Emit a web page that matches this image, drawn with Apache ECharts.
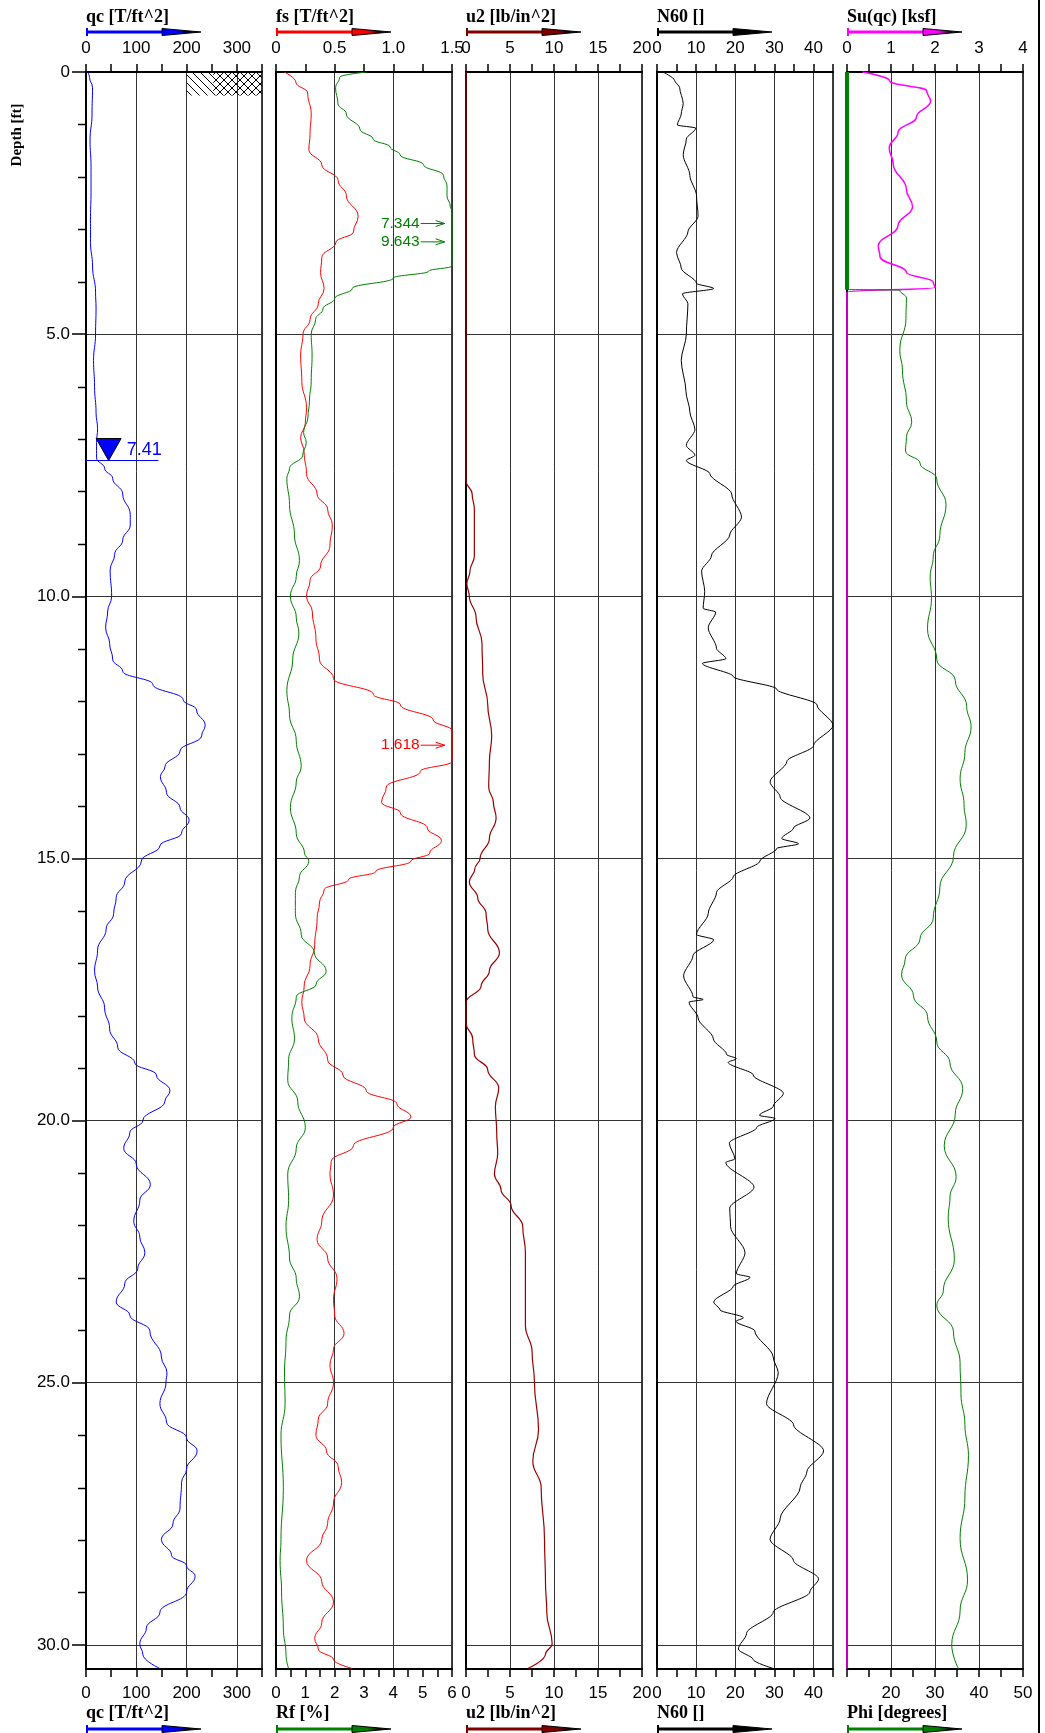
<!DOCTYPE html>
<html>
<head>
<meta charset="utf-8">
<title>CPT log</title>
<script src="https://cdn.jsdelivr.net/npm/echarts@6.0.0/dist/echarts.min.js"></script>
<style>
  html, body { margin: 0; padding: 0; background: #fff; }
  #cpt { width: 1045px; height: 1733px; }
</style>
</head>
<body>
<div id="cpt"></div>
<script>
var qcDepth = [0, 0.1, 0.3, 0.8, 1.3, 1.8, 2.3, 2.75, 3.25, 3.7, 4.2, 4.5, 5.0, 5.5, 6.0, 6.5, 6.8, 7.07, 7.36, 7.56,
  7.75, 8.05, 8.44, 8.64, 8.93, 9.2, 9.5, 10.0, 10.3, 10.6, 10.9, 11.2, 11.43, 11.68, 11.97, 12.17, 12.46, 12.66, 12.95, 13.25,
  13.44, 13.74, 14.03, 14.27, 14.52, 14.76, 15.05, 15.45, 15.75, 16.05, 16.35, 16.75, 17.15, 17.45, 17.85, 18.25, 18.6, 18.9, 19.13, 19.43,
  19.63, 20.0, 20.23, 20.53, 20.83, 21.22, 21.52, 21.92, 22.22, 22.52, 22.82, 23.11, 23.46, 23.71, 24.01, 24.51, 24.81, 25.0, 25.4, 25.75,
  26.05, 26.3, 26.65, 26.9, 27.39, 27.69, 27.99, 28.29, 28.49, 28.69, 28.99, 29.38, 29.68, 29.98, 30.18, 30.45];
var qcVal = [3, 7, 13, 12, 8, 10, 10, 9, 9, 13, 19, 20, 19, 15, 17, 20, 23, 21, 21, 37,
  53, 73, 88, 88, 73, 57, 48, 51, 43, 39, 47, 53, 73, 133, 193, 220, 237, 230, 187, 157,
  148, 160, 187, 205, 190, 147, 110, 77, 60, 55, 40, 23, 17, 23, 37, 47, 63, 97, 140, 167,
  157, 113, 87, 75, 100, 128, 107, 95, 107, 117, 103, 77, 60, 87, 127, 150, 161, 159, 147, 160,
  200, 221, 200, 190, 187, 173, 150, 170, 200, 217, 200, 147, 120, 107, 113, 147];

var fsDepth = [0, 0.2, 0.4, 0.8, 1.19, 1.48, 1.77, 2.07, 2.36, 2.75, 3.05, 3.25, 3.54, 3.83, 4.13, 4.42, 4.72, 5.0, 5.4, 5.9,
  6.4, 6.7, 6.97, 7.26, 7.66, 8.05, 8.34, 8.64, 9.03, 9.42, 9.7, 10.0, 10.3, 10.8, 11.2, 11.57, 11.87, 12.07, 12.36, 12.56,
  12.85, 13.15, 13.34, 13.64, 13.93, 14.13, 14.42, 14.66, 14.9, 15.05, 15.25, 15.4, 15.6, 15.85, 16.15, 16.65, 17.04, 17.44, 17.74, 18.04,
  18.44, 18.84, 19.13, 19.43, 19.68, 19.93, 20.13, 20.48, 20.78, 21.02, 21.42, 21.92, 22.27, 22.62, 23.01, 23.41, 23.71, 24.06, 24.36, 24.66,
  25.0, 25.4, 25.7, 26.0, 26.3, 26.6, 26.9, 27.29, 27.69, 27.99, 28.39, 28.79, 29.18, 29.58, 29.88, 30.08, 30.28, 30.45];
var fsVal = [0.07, 0.17, 0.27, 0.30, 0.29, 0.28, 0.39, 0.53, 0.60, 0.70, 0.66, 0.51, 0.39, 0.38, 0.41, 0.36, 0.29, 0.23, 0.21, 0.22,
  0.26, 0.25, 0.21, 0.24, 0.26, 0.35, 0.44, 0.48, 0.46, 0.38, 0.29, 0.26, 0.31, 0.34, 0.37, 0.49, 0.83, 1.06, 1.34, 1.5,
  1.5, 1.5, 1.23, 0.94, 0.90, 1.06, 1.29, 1.41, 1.31, 1.15, 0.85, 0.62, 0.41, 0.37, 0.35, 0.33, 0.29, 0.24, 0.22, 0.24,
  0.36, 0.44, 0.57, 0.77, 1.03, 1.15, 1.0, 0.66, 0.47, 0.46, 0.49, 0.39, 0.35, 0.44, 0.52, 0.49, 0.50, 0.58, 0.49, 0.46,
  0.49, 0.44, 0.36, 0.34, 0.43, 0.53, 0.56, 0.49, 0.44, 0.39, 0.26, 0.39, 0.49, 0.39, 0.33, 0.36, 0.49, 0.65];

var rfDepth = [0, 0.1, 0.3, 0.6, 0.8, 1.09, 1.28, 1.43, 1.58, 1.77, 1.97, 2.17, 2.36, 2.56, 2.66, 3.7, 3.8, 3.93, 4.13, 4.32,
  4.52, 4.72, 5.0, 5.4, 5.9, 6.28, 6.58, 6.87, 7.07, 7.31, 7.56, 7.75, 8.25, 8.83, 9.32, 9.62, 10.0, 10.4, 10.7, 11.2,
  11.8, 12.26, 12.75, 13.25, 13.54, 14.03, 14.52, 14.9, 15.05, 15.35, 15.65, 16.05, 16.45, 16.8, 17.15, 17.4, 17.64, 18.04, 18.44, 18.84,
  19.23, 19.63, 20.13, 20.53, 21.02, 21.52, 22.02, 22.62, 23.01, 23.36, 23.71, 24.21, 24.81, 25.4, 26.0, 27.0, 27.99, 28.39, 28.99, 29.68,
  30.18, 30.45];
var rfVal = [3.09, 2.17, 2.03, 2.11, 2.4, 2.86, 3.31, 3.89, 4.23, 5.03, 5.71, 5.83, 5.83, 5.94, 6, 6, 5.2, 4.0, 2.6, 2.0,
  1.6, 1.35, 1.2, 1.23, 1.2, 1.14, 1.09, 0.94, 1.03, 0.91, 0.46, 0.37, 0.46, 0.63, 0.8, 0.69, 0.49, 0.69, 0.78, 0.57,
  0.37, 0.46, 0.69, 0.86, 0.69, 0.49, 0.69, 0.97, 1.12, 0.8, 0.66, 0.66, 0.86, 1.31, 1.71, 1.37, 0.69, 0.54, 0.63, 0.43,
  0.4, 0.74, 1.0, 0.69, 0.4, 0.43, 0.34, 0.46, 0.69, 0.8, 0.46, 0.34, 0.29, 0.31, 0.17, 0.25, 0.17, 0.14, 0.19, 0.25,
  0.34, 0.43];

var u2Depth = [0, 7.8, 8.05, 8.34, 9.23, 9.52, 9.76, 10.0, 10.4, 10.9, 11.48, 12.07, 12.66, 13.15, 13.64, 13.93, 14.23, 14.62, 15.0, 15.2,
  15.45, 15.75, 16.05, 16.35, 16.8, 17.14, 17.44, 17.74, 18.14, 18.44, 18.74, 19.03, 19.38, 19.73, 20.23, 20.63, 21.02, 21.32, 21.62, 22.02,
  22.52, 23.91, 24.41, 25.0, 25.9, 26.5, 27.0, 27.99, 28.79, 29.38, 29.98, 30.18, 30.45];
var u2Val = [0, 0, 0.7, 0.95, 0.95, 0.45, 0.1, 0.38, 1.14, 1.82, 1.9, 2.47, 2.92, 2.66, 2.58, 3.11, 3.42, 2.66, 1.6, 1.0,
  0.38, 1.33, 2.28, 2.47, 3.8, 2.66, 1.71, 0, 0, 0.76, 0.95, 2.47, 3.72, 3.34, 3.49, 3.6, 3.23, 3.98, 5.12, 6.45,
  6.75, 6.75, 7.51, 7.78, 8.24, 7.59, 8.54, 8.92, 9.03, 9.18, 9.79, 9.03, 7.02];

var n60Depth = [0, 0.16, 0.3, 0.6, 0.8, 1.01, 1.07, 1.28, 1.58, 1.97, 2.36, 2.75, 3.05, 3.44, 3.74, 4.03, 4.13, 4.23, 4.42, 5.0,
  5.5, 6.09, 6.48, 6.82, 7.12, 7.31, 7.41, 7.66, 8.05, 8.49, 8.83, 9.23, 9.52, 9.91, 10.23, 10.3, 10.6, 10.99, 11.19, 11.28,
  11.53, 11.77, 12.07, 12.46, 12.85, 13.15, 13.54, 13.83, 14.23, 14.42, 14.62, 14.72, 14.81, 15.05, 15.35, 15.65, 16.05, 16.45, 16.55, 16.85,
  17.24, 17.64, 17.69, 17.74, 18.04, 18.44, 18.74, 18.82, 18.89, 19.13, 19.48, 19.73, 19.9, 19.96, 20.13, 20.43, 20.73, 20.8, 21.27, 21.67,
  22.02, 22.52, 22.92, 22.99, 23.16, 23.46, 23.61, 23.76, 23.83, 24.01, 24.51, 24.81, 25.4, 25.8, 26.3, 26.7, 27.0, 27.59, 27.99, 28.39,
  28.74, 28.99, 29.38, 29.78, 30.08, 30.28, 30.45];
var n60Val = [1.5, 4.5, 5.8, 6.7, 6.2, 5.2, 9.9, 7.5, 6.7, 8.4, 10.1, 10.5, 7.9, 5.0, 6.2, 10.1, 14.5, 6.5, 7.9, 7.5,
  6.2, 7.4, 8.4, 9.7, 7.5, 9.7, 7.5, 13.5, 19.1, 21.6, 18.6, 13.9, 11.4, 12.2, 11.8, 15, 13.1, 15.2, 17.6, 11.6,
  19.5, 30.6, 40.9, 45, 40, 33.2, 28.9, 31.5, 39.1, 34.9, 31.9, 36.2, 30.6, 26.3, 19.5, 15.2, 13.1, 10.1, 14.5, 9.2,
  6.8, 9.2, 11.8, 8.2, 10.5, 14.4, 17.8, 20.3, 18.2, 24.6, 32.3, 29.7, 26.2, 30.2, 25.5, 18.5, 19.9, 17.6, 24.8, 18.6,
  18.8, 22.5, 20.3, 23.8, 19.5, 14.5, 16.1, 22.1, 20.2, 25, 29.7, 31, 28, 34.9, 42.6, 38.3, 36.6, 31.5, 28.9, 34.9,
  41.3, 39.1, 29.7, 22.9, 20.8, 24.6, 29.7];

var suDepth = [0, 0.17, 0.36, 0.56, 0.86, 1.15, 1.45, 1.75, 2.24, 2.57, 2.93, 3.32, 3.52, 3.82, 4.01, 4.11, 4.2, 30.45];
var suVal = [0.35, 0.97, 1.81, 1.9, 1.58, 1.16, 0.96, 1.05, 1.35, 1.49, 1.16, 0.71, 0.75, 1.35, 1.96, 2.0, 0, 0];

var phiClayDepth = [0, 4.15];
var phiClayVal = [10, 10];
var phiDepth = [4.15, 4.16, 4.31, 4.7, 5.3, 5.69, 6.28, 6.68, 6.97, 7.23, 7.46, 7.76, 8.25, 8.84, 9.24, 9.63, 10.03, 10.62, 11.21, 11.6,
  12.1, 12.49, 12.98, 13.48, 13.97, 14.37, 14.96, 15.55, 16.14, 16.53, 16.93, 17.22, 17.62, 18.01, 18.5, 18.9, 19.39, 19.88, 20.48, 21.07,
  21.46, 21.86, 22.65, 23.24, 23.53, 24.03, 24.62, 25.21, 25.8, 26.39, 27.18, 27.97, 28.76, 29.35, 30.0, 30.45];
var phiVal = [10, 22.0, 23.5, 23.4, 22.0, 22.6, 23.5, 24.7, 23.5, 23.3, 26.6, 30.4, 32.5, 31.1, 29.6, 28.9, 29.2, 28.3, 30.4, 34.6,
  37.2, 38.2, 36.8, 35.7, 36.6, 37.1, 34.2, 31.1, 29.6, 26.6, 23.2, 22.4, 25.1, 28.3, 30.4, 33.4, 36.3, 34.6, 32.1, 34.8,
  33.4, 33.0, 34.4, 31.9, 30.4, 34.2, 35.7, 35.9, 36.8, 37.6, 36.8, 35.7, 37.4, 35.7, 33.8, 35.3];

// tick positions / labels
var depthMinorTicks = [1, 2, 3, 4, 6, 7, 8, 9, 11, 12, 13, 14, 16, 17, 18, 19, 21, 22, 23, 24, 26, 27, 28, 29];
var depthLabels = [0, 5, 10, 15, 20, 25, 30];
var qcTicks = [0, 50, 100, 150, 200, 250, 300, 350];
var qcLabels = [0, 100, 200, 300];
var fsTicks = [0, 0.25, 0.5, 0.75, 1.0, 1.25, 1.5];
var fsLabels = [0, 0.5, 1.0, 1.5];
var rfTicks = [0, 0.5, 1, 1.5, 2, 2.5, 3, 3.5, 4, 4.5, 5, 5.5, 6];
var rfLabels = [0, 1, 2, 3, 4, 5, 6];
var u2Ticks = [0, 2.5, 5, 7.5, 10, 12.5, 15, 17.5, 20];
var u2Labels = [0, 5, 10, 15, 20];
var n60Ticks = [0, 5, 10, 15, 20, 25, 30, 35, 40, 45];
var n60Labels = [0, 10, 20, 30, 40];
var suTicks = [0, 0.5, 1, 1.5, 2, 2.5, 3, 3.5, 4];
var suLabels = [0, 1, 2, 3, 4];
var phiTicks = [10, 15, 20, 25, 30, 35, 40, 45, 50];
var phiLabels = [20, 30, 40, 50];

var topTitles = ['qc [T/ft^2]', 'fs [T/ft^2]', 'u2 [lb/in^2]', 'N60 []', 'Su(qc) [ksf]'];
var bottomTitles = ['qc [T/ft^2]', 'Rf [%]', 'u2 [lb/in^2]', 'N60 []', 'Phi [degrees]'];
var topColors = ['#0000ff', '#ff0000', '#800000', '#000000', '#ff00ff'];
var bottomColors = ['#0000ff', '#008000', '#800000', '#000000', '#008000'];

var waterDepth = 7.41;
var hatchDepth = 0.45;
var offScaleDepth = [2.89, 3.24, 12.84];
var offScaleText = ['7.344', '9.643', '1.618'];
var offScaleColor = ['#008000', '#008000', '#ff0000'];

// ---- layout ----
var gridLeft = [86, 276, 466, 657, 847];
var GRID_TOP = 72, GRID_W = 176, GRID_H = 1597, DEPTH_MAX = 30.46;
var NUM_FONT = '"Liberation Sans", Arial, sans-serif';
var TITLE_FONT = 'bold 18px "Liberation Serif", "Times New Roman", serif';

function pairs(vals, depths) {
  return vals.map(function (v, i) { return [v, depths[i]]; });
}

function xAx(grid, pos, min, max, ticks, labels, fmt) {
  return {
    type: 'value', gridIndex: grid, position: pos, min: min, max: max,
    axisLine: { show: true, onZero: false, lineStyle: { color: '#000', width: 2 } },
    axisTick: { show: true, length: 8, customValues: ticks, lineStyle: { color: '#000', width: 1.5 } },
    axisLabel: {
      show: true, customValues: labels, formatter: fmt, margin: pos === 'top' ? 15 : 16,
      color: '#000', fontSize: 17, fontFamily: NUM_FONT
    },
    splitLine: { show: false }
  };
}

// invisible axis that only draws the vertical grid lines
function gridAx(grid, min, max, major) {
  return {
    type: 'value', gridIndex: grid, position: 'top', min: min, max: max, interval: major,
    axisLine: { show: false, onZero: false }, axisTick: { show: false }, axisLabel: { show: false },
    splitLine: { show: true, lineStyle: { color: '#333', width: 1 } }
  };
}

function yAx(grid, first) {
  return {
    type: 'value', gridIndex: grid, position: 'left', inverse: true, min: 0, max: DEPTH_MAX, interval: 5,
    axisLine: { show: true, onZero: false, lineStyle: { color: '#000', width: 2 } },
    axisTick: { show: first, length: 14, customValues: depthLabels, lineStyle: { color: '#000', width: 1.5 } },
    axisLabel: {
      show: first, customValues: depthLabels, margin: 16, color: '#000', fontSize: 17, fontFamily: NUM_FONT,
      formatter: function (v) { return v === 0 ? '0' : v.toFixed(1); }
    },
    splitLine: { show: true, lineStyle: { color: '#333', width: 1 } }
  };
}

var plain = function (v) { return String(v); };
var oneDec = function (v) { return v === 0 ? '0' : v.toFixed(1); };

function line(name, xi, yi, vals, depths, color, width, extra) {
  return Object.assign({
    name: name, type: 'line', xAxisIndex: xi, yAxisIndex: yi,
    data: pairs(vals, depths),
    showSymbol: false, symbol: 'none', smooth: 0.45, smoothMonotone: 'y',
    lineStyle: { color: color, width: width }, itemStyle: { color: color },
    silent: true, animation: false, z: 3
  }, extra || {});
}

var option = {
  backgroundColor: '#fff',
  animation: false,
  grid: gridLeft.map(function (l) {
    return {
      left: l, top: GRID_TOP, width: GRID_W, height: GRID_H, show: true,
      borderColor: '#000', borderWidth: 1.5, backgroundColor: 'transparent', outerBoundsMode: 'none'
    };
  }),
  xAxis: [
    xAx(0, 'top', 0, 350, qcTicks, qcLabels, plain),
    xAx(0, 'bottom', 0, 350, qcTicks, qcLabels, plain),
    xAx(1, 'top', 0, 1.5, fsTicks, fsLabels, oneDec),
    xAx(1, 'bottom', 0, 6, rfTicks, rfLabels, plain),
    xAx(2, 'top', 0, 20, u2Ticks, u2Labels, plain),
    xAx(2, 'bottom', 0, 20, u2Ticks, u2Labels, plain),
    xAx(3, 'top', 0, 45, n60Ticks, n60Labels, plain),
    xAx(3, 'bottom', 0, 45, n60Ticks, n60Labels, plain),
    xAx(4, 'top', 0, 4, suTicks, suLabels, plain),
    xAx(4, 'bottom', 10, 50, phiTicks, phiLabels, plain),
    gridAx(0, 0, 350, 100),
    gridAx(1, 0, 1.5, 0.5),
    gridAx(2, 0, 20, 5),
    gridAx(3, 0, 45, 10),
    gridAx(4, 0, 4, 1)
  ],
  yAxis: [yAx(0, true), yAx(1, false), yAx(2, false), yAx(3, false), yAx(4, false)],
  series: [
    line('qc', 0, 0, qcVal, qcDepth, '#0000ff', 1),
    line('fs', 2, 1, fsVal, fsDepth, '#ff0000', 1),
    line('Rf', 3, 1, rfVal, rfDepth, '#008000', 1),
    line('u2', 4, 2, u2Val, u2Depth, '#990000', 1.2, { clip: false }),
    line('N60', 6, 3, n60Val, n60Depth, '#000000', 1, { smooth: 0.3 }),
    line('Su', 8, 4, suVal, suDepth, '#ff00ff', 1.5, { clip: false }),
    line('Phi clay', 9, 4, phiClayVal, phiClayDepth, '#008000', 4, { clip: false, smooth: false }),
    line('Phi', 9, 4, phiVal, phiDepth, '#008000', 1)
  ]
};

var chart = echarts.init(document.getElementById('cpt'));
chart.setOption(option);

function px(seriesIndex, x, d) {
  return chart.convertToPixel({ seriesIndex: seriesIndex }, [x, d]);
}

function hatchTile(back) {
  var c = document.createElement('canvas');
  c.width = 8; c.height = 8;
  var g = c.getContext('2d');
  g.strokeStyle = '#000'; g.lineWidth = 1;
  g.beginPath();
  if (back) {
    g.moveTo(0, 0); g.lineTo(8, 8); g.moveTo(-2, 6); g.lineTo(2, 10); g.moveTo(6, -2); g.lineTo(10, 2);
  } else {
    g.moveTo(0, 8); g.lineTo(8, 0); g.moveTo(-2, 2); g.lineTo(2, -2); g.moveTo(6, 10); g.lineTo(10, 6);
  }
  g.stroke();
  return c;
}

function axisArrow(x, y, color) {
  return [
    { type: 'line', silent: true, shape: { x1: x, y1: y, x2: x + 77, y2: y }, style: { stroke: color, lineWidth: 3 } },
    { type: 'line', silent: true, shape: { x1: x + 1, y1: y - 4, x2: x + 1, y2: y + 4 }, style: { stroke: color, lineWidth: 2 } },
    {
      type: 'polygon', silent: true,
      shape: { points: [[x + 76, y - 3.5], [x + 115, y], [x + 76, y + 3.5]] },
      style: {
        fill: new echarts.graphic.LinearGradient(0, 0, 1, 0, [
          { offset: 0, color: color }, { offset: 0.4, color: color }, { offset: 0.75, color: '#000' }, { offset: 1, color: '#000' }
        ]),
        stroke: '#000', lineWidth: 1
      }
    }
  ];
}

function label(text, x, y, font, color, align, extra) {
  return Object.assign({
    type: 'text', silent: true, x: x, y: y,
    style: { text: text, font: font, fill: color, align: align, verticalAlign: 'middle', textAlign: align, textVerticalAlign: 'middle' }
  }, extra || {});
}

var els = [];

// titles and direction arrows
for (var i = 0; i < 5; i++) {
  els.push(label(topTitles[i], gridLeft[i], 17, TITLE_FONT, '#000', 'left'));
  els.push(label(bottomTitles[i], gridLeft[i], 1713, TITLE_FONT, '#000', 'left'));
  els = els.concat(axisArrow(gridLeft[i], 32, topColors[i]));
  els = els.concat(axisArrow(gridLeft[i], 1729, bottomColors[i]));
}

els.push(label('Depth [ft]', 17, 135, 'bold 15px "Liberation Serif", "Times New Roman", serif', '#000', 'center', { rotation: Math.PI / 2 }));

// one-foot ticks on the depth axis
depthMinorTicks.forEach(function (d) {
  var p = px(0, 0, d);
  els.push({ type: 'line', silent: true, shape: { x1: p[0] - 8, y1: Math.round(p[1]) + 0.5, x2: p[0], y2: Math.round(p[1]) + 0.5 },
    style: { stroke: '#000', lineWidth: 1.5 } });
});

// page border on the right
els.push({ type: 'line', silent: true, shape: { x1: 1039, y1: 0, x2: 1039, y2: 1733 }, style: { stroke: '#000', lineWidth: 2 } });

// soil hatch at the top of the qc panel
var h0 = px(0, 200, 0), h1 = px(0, 350, hatchDepth), h2 = px(0, 253, 0);
els.push({ type: 'rect', silent: true, z: 5, shape: { x: h0[0], y: h0[1], width: h1[0] - h0[0], height: h1[1] - h0[1] },
  style: { fill: { image: hatchTile(true), repeat: 'repeat' }, stroke: null } });
els.push({ type: 'rect', silent: true, z: 5, shape: { x: h2[0], y: h2[1], width: h1[0] - h2[0], height: h1[1] - h2[1] },
  style: { fill: { image: hatchTile(false), repeat: 'repeat' }, stroke: null } });

// water table
var w0 = px(0, 0, waterDepth), w1 = px(0, 144, waterDepth), wt = px(0, 45, waterDepth);
els.push({ type: 'line', silent: true, z: 6, shape: { x1: w0[0], y1: w0[1], x2: w1[0], y2: w1[1] }, style: { stroke: '#0000ff', lineWidth: 1 } });
els.push({ type: 'polygon', silent: true, z: 6, shape: { points: [[wt[0] - 12.5, wt[1] - 22], [wt[0] + 12.5, wt[1] - 22], [wt[0], wt[1]]] },
  style: { fill: '#0000ff', stroke: '#000', lineWidth: 1 } });
els.push(label(String(waterDepth), wt[0] + 18, wt[1] - 10, '18px ' + NUM_FONT, '#0000ff', 'left', { z: 6 }));

// off-scale values in the fs / Rf panel
for (var k = 0; k < offScaleDepth.length; k++) {
  var a = px(2, 4.9, offScaleDepth[k]), b = px(2, 5.75, offScaleDepth[k]);
  var c = offScaleColor[k];
  els.push(label(offScaleText[k], a[0], a[1], '15.5px ' + NUM_FONT, c, 'right', { z: 6 }));
  els.push({ type: 'line', silent: true, z: 6, shape: { x1: a[0] + 1, y1: a[1], x2: b[0], y2: b[1] }, style: { stroke: c, lineWidth: 1 } });
  els.push({ type: 'polyline', silent: true, z: 6, shape: { points: [[b[0] - 9, b[1] - 3], [b[0], b[1]], [b[0] - 9, b[1] + 3]] },
    style: { stroke: c, lineWidth: 1, fill: null } });
}

chart.setOption({ graphic: { elements: els } });
</script>
</body>
</html>
